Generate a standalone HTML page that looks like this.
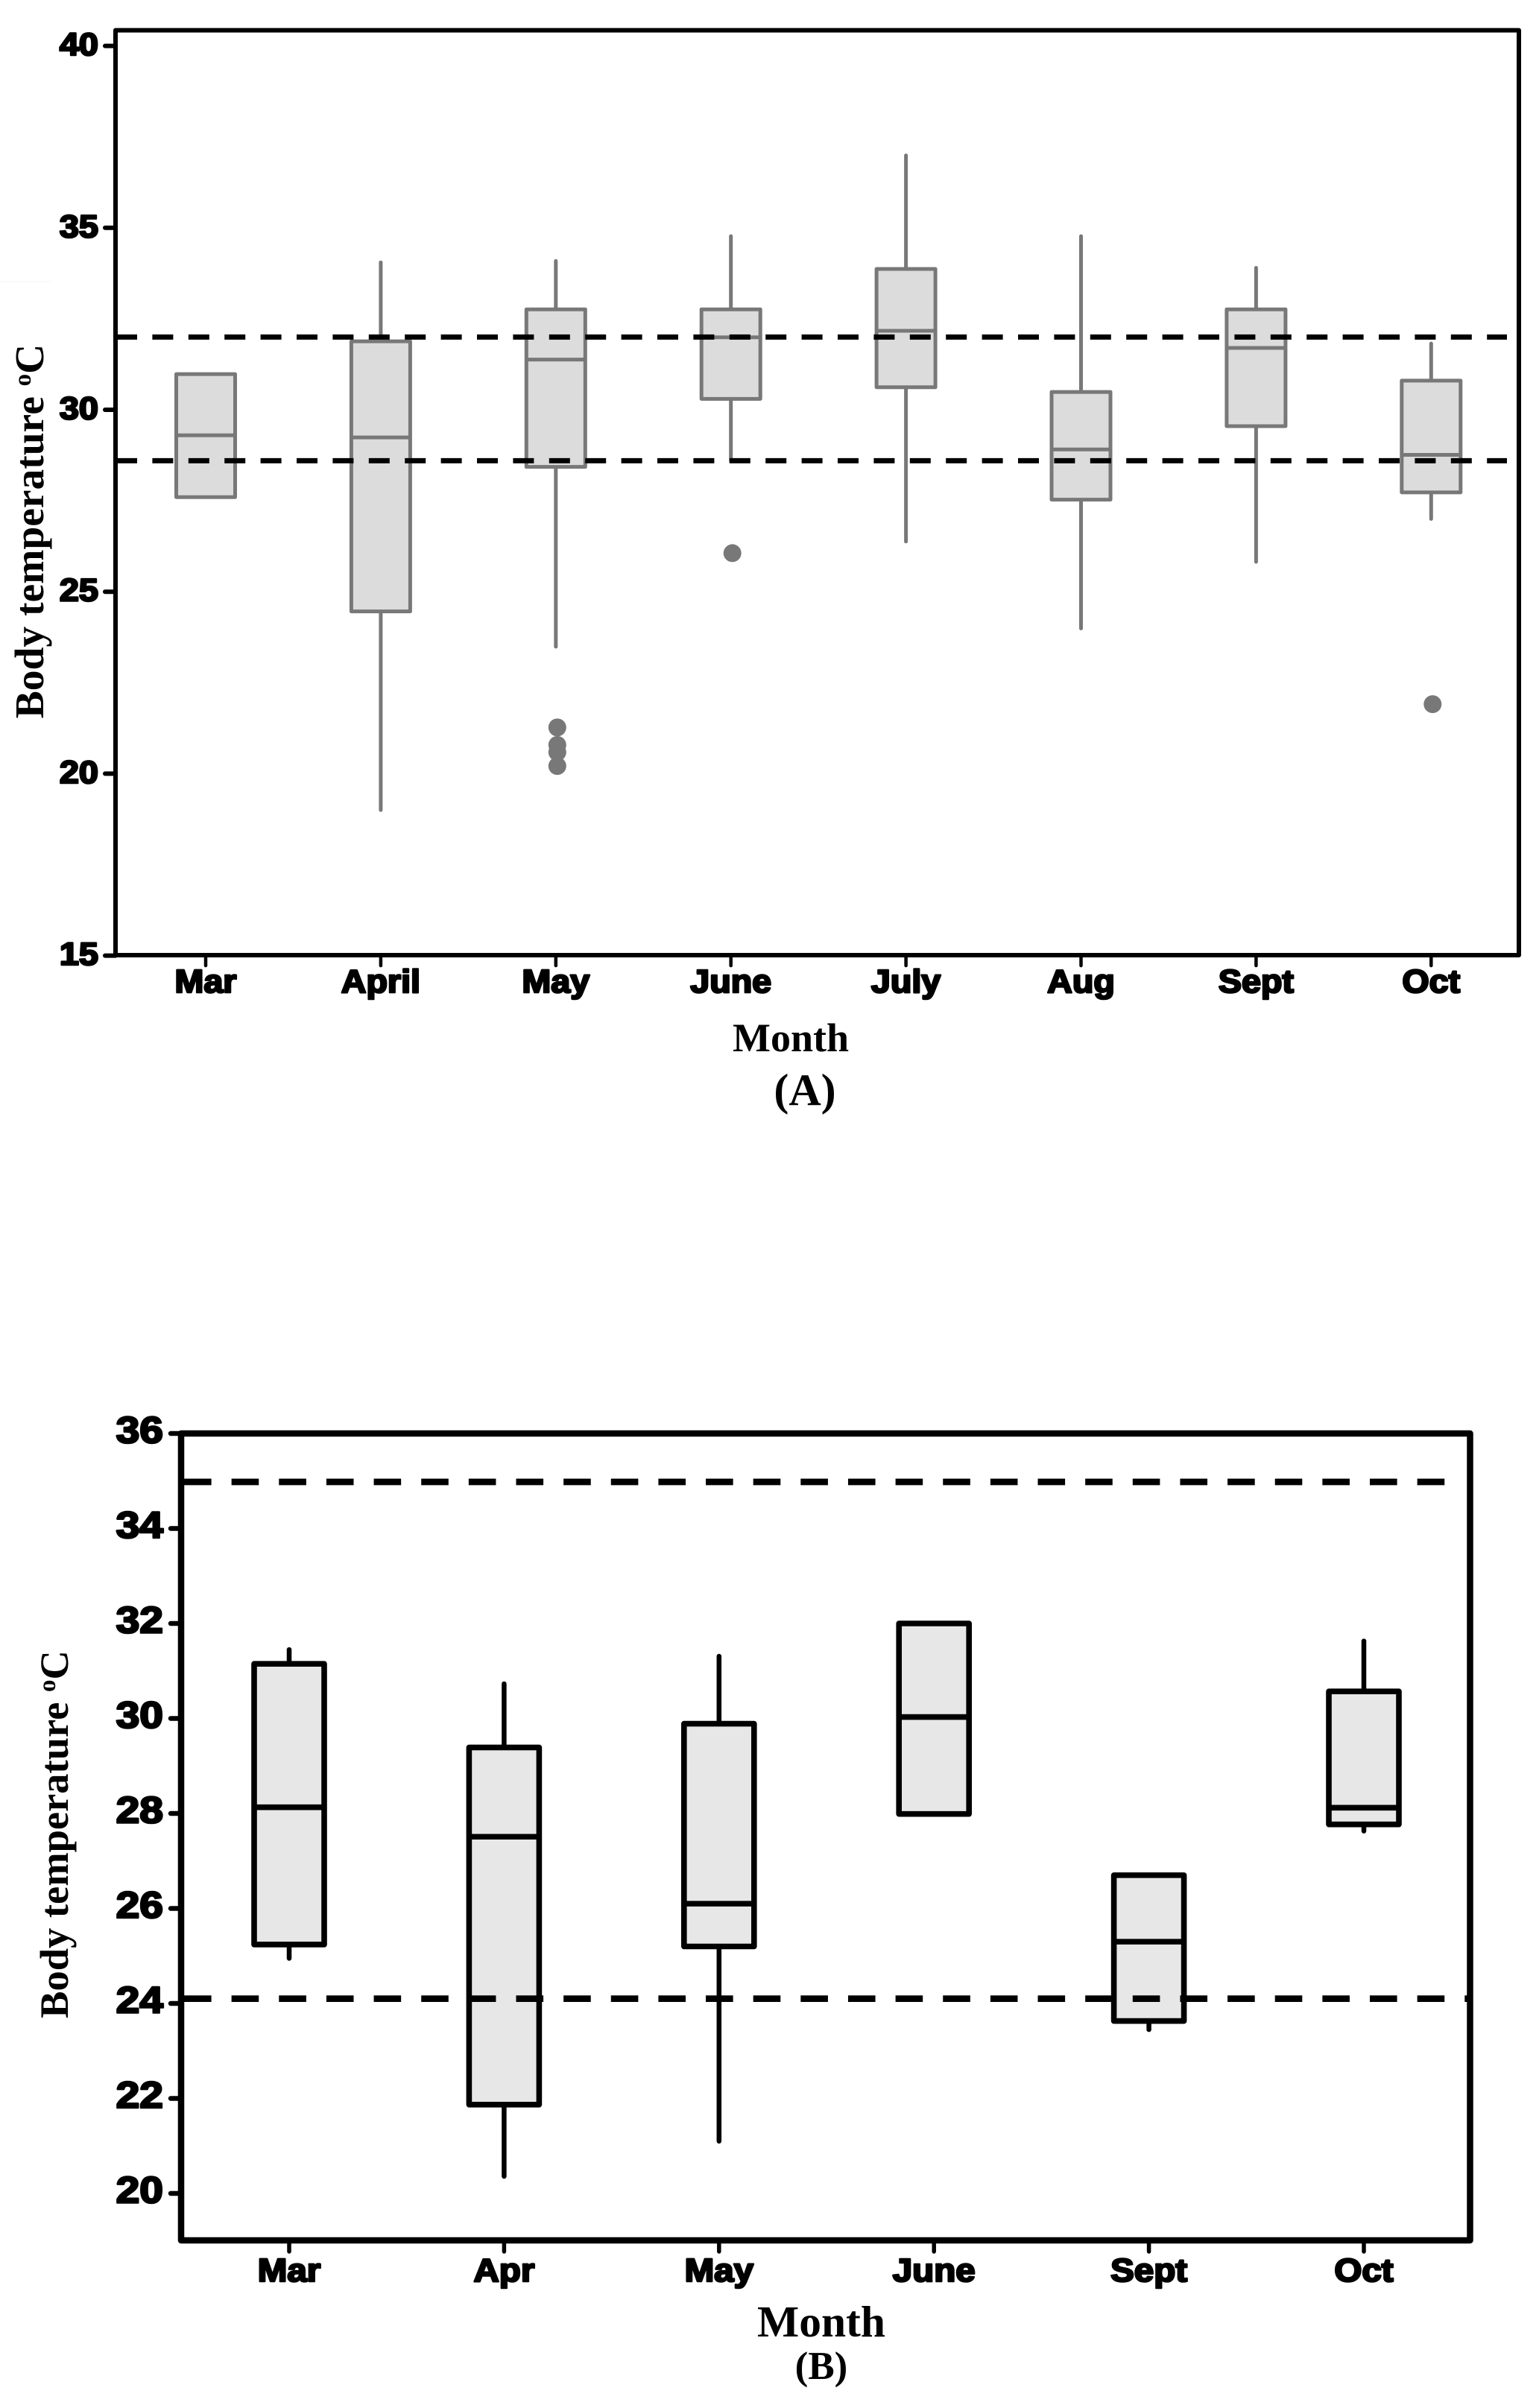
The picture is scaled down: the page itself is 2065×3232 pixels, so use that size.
<!DOCTYPE html>
<html lang="en">
<head>
<meta charset="utf-8">
<title>Body temperature by month</title>
<style>
  html, body { margin: 0; padding: 0; background: #fff; }
  svg { display: block; }
  .tick-label { font-family: "Liberation Sans", Arial, sans-serif; font-weight: 700; fill: #000; stroke: #000; stroke-linejoin: round; }
  .serif-label { font-family: "Liberation Serif", "Times New Roman", serif; font-weight: 700; fill: #000; }
</style>
</head>
<body>
<svg id="figure" xmlns="http://www.w3.org/2000/svg" width="2065" height="3232" viewBox="0 0 2065 3232">
  <rect x="0" y="0" width="2065" height="3232" fill="#ffffff"/>
  <line x1="0" y1="378" x2="68" y2="378" stroke="#f3f3f3" stroke-width="1"/>
  <g id="panel-a"></g>
  <text class="serif-label" x="1061" y="1411" font-size="54" text-anchor="middle">Month</text>
  <text class="serif-label" x="1080" y="1483" font-size="60" text-anchor="middle">(A)</text>
  <text class="serif-label" font-size="55.5" text-anchor="middle" transform="translate(58 713) rotate(-90)">Body temperature <tspan font-size="33" dy="-17">o</tspan><tspan dy="17">C</tspan></text>
  <g id="panel-b"></g>
  <text class="serif-label" x="1102" y="3136" font-size="59.5" text-anchor="middle">Month</text>
  <text class="serif-label" x="1102" y="3193" font-size="53" text-anchor="middle">(B)</text>
  <text class="serif-label" font-size="54.5" text-anchor="middle" transform="translate(91 2462) rotate(-90)">Body temperature <tspan font-size="33" dy="-17">o</tspan><tspan dy="17">C</tspan></text>
</svg>
<script>
// Panel A data
var categoriesA = ["Mar", "April", "May", "June", "July", "Aug", "Sept", "Oct"];
var whiskerHighA = [null, 34.05, 34.09, 34.77, 36.99, 34.77, 33.9, 31.82];
var q3A = [30.98, 31.88, 32.76, 32.76, 33.87, 30.49, 32.76, 30.8];
var medianA = [29.3, 29.24, 31.38, 31.99, 32.17, 28.91, 31.7, 28.76];
var q1A = [27.6, 24.46, 28.43, 30.3, 30.62, 27.53, 29.55, 27.73];
var whiskerLowA = [null, 19, 23.49, 28.59, 26.38, 23.99, 25.82, 27];
var outliersA = [[], [], [21.27, 20.79, 20.59, 20.21], [26.06], [], [], [], [21.91]];
var referenceA = [32, 28.6];
var yTicksA = [15, 20, 25, 30, 35, 40];

// Panel B data
var categoriesB = ["Mar", "Apr", "May", "June", "Sept", "Oct"];
var whiskerHighB = [31.45, 30.73, 31.31, null, null, 31.63];
var q3B = [31.15, 29.39, 29.89, 32, 26.7, 30.57];
var medianB = [28.13, 27.51, 26.1, 30.03, 25.3, 28.12];
var q1B = [25.24, 21.87, 25.2, 27.99, 23.63, 27.77];
var whiskerLowB = [24.95, 20.36, 21.1, null, 23.45, 27.63];
var outliersB = [[], [], [], [], [], []];
var referenceB = [34.98, 24.1];
var yTicksB = [20, 22, 24, 26, 28, 30, 32, 34, 36];

var SVG_NS = "http://www.w3.org/2000/svg";

function make(tag, attrs, parent) {
  var el = document.createElementNS(SVG_NS, tag);
  Object.keys(attrs).forEach(function (k) { el.setAttribute(k, attrs[k]); });
  parent.appendChild(el);
  return el;
}

function slug(s) { return String(s).toLowerCase(); }

function widen(el, factor) {
  var natural = el.getComputedTextLength();
  el.setAttribute("textLength", natural * factor);
  el.setAttribute("lengthAdjust", "spacingAndGlyphs");
}

function drawPanel(root, prefix, d, o) {
  var y = function (v) { return o.yBase + (o.yMax - v) * o.yUnit; };
  var x = function (i) { return o.xBase + i * o.xStep; };

  // boxes, whiskers, outliers
  d.categories.forEach(function (cat, i) {
    var cx = x(i);
    var key = prefix + "-" + slug(cat);

    if (d.high[i] !== null) {
      var wh = make("line", { x1: cx, x2: cx, y1: y(d.high[i]), y2: y(d.q3[i]), stroke: o.color, "stroke-width": o.whiskerW, "stroke-linecap": "round" }, root);
      
      
    }
    if (d.low[i] !== null) {
      var wl = make("line", { x1: cx, x2: cx, y1: y(d.q1[i]), y2: y(d.low[i]), stroke: o.color, "stroke-width": o.whiskerW, "stroke-linecap": "round" }, root);
      
      
    }

    var box = make("rect", { x: cx - o.boxHalf, y: y(d.q3[i]), width: o.boxHalf * 2, height: y(d.q1[i]) - y(d.q3[i]), fill: o.fill, stroke: o.color, "stroke-width": o.boxW, "stroke-linejoin": "round" }, root);
    
    

    var med = make("line", { x1: cx - o.boxHalf, x2: cx + o.boxHalf, y1: y(d.median[i]), y2: y(d.median[i]), stroke: o.color, "stroke-width": o.boxW }, root);
    
    

    d.outliers[i].forEach(function (v) {
      var pt = make("circle", { cx: cx + 2, cy: y(v), r: 12, fill: o.color }, root);
      
      
    });
  });

  // reference lines
  d.reference.forEach(function (v, i) {
    var ref = make("line", { x1: o.dashStart, x2: o.dashEnds[i], y1: y(v), y2: y(v), stroke: "#000", "stroke-width": o.dashW, "stroke-dasharray": o.dash }, root);
    
    
  });

  // frame
  var frame = make("rect", { x: o.left, y: o.top, width: o.right - o.left, height: o.bottom - o.top, fill: "none", stroke: "#000", "stroke-width": o.frameW, "stroke-linejoin": "round" }, root);
  
  

  // y ticks
  d.yTicks.forEach(function (v) {
    var t = make("line", { x1: o.left - o.yTickLen, x2: o.left, y1: y(v), y2: y(v), stroke: "#000", "stroke-width": o.tickW, "stroke-linecap": "round" }, root);
    
    

    var lab = make("text", { class: "tick-label", x: o.yLabelX, y: y(v) + o.yLabelDy, "font-size": o.yFont, "text-anchor": "end", "stroke-width": o.labelStroke }, root);
    
    
    lab.textContent = v;
    widen(lab, o.yWiden);
  });

  // x ticks
  d.categories.forEach(function (cat, i) {
    var t = make("line", { x1: x(i), x2: x(i), y1: o.bottom, y2: o.xTickEnd, stroke: "#000", "stroke-width": o.xTickW, "stroke-linecap": "round" }, root);
    
    

    var lab = make("text", { class: "tick-label", x: x(i), y: o.xLabelY, "font-size": o.xFont, "text-anchor": "middle", "stroke-width": o.labelStroke }, root);
    
    
    lab.textContent = cat;
    widen(lab, o.xWiden);
  });
}

drawPanel(document.getElementById("panel-a"), "panel-a", {
  categories: categoriesA, high: whiskerHighA, q3: q3A, median: medianA, q1: q1A, low: whiskerLowA,
  outliers: outliersA, reference: referenceA, yTicks: yTicksA
}, {
  yMax: 40, yBase: 61.6, yUnit: 48.84, xBase: 276, xStep: 234.9,
  left: 155, right: 2038, top: 40.6, bottom: 1282,
  color: "#787878", fill: "#dcdcdc", boxHalf: 39.5, boxW: 5, whiskerW: 5,
  dashStart: 156, dashEnds: [2022, 2022], dashW: 7, dash: "28 20.4",
  frameW: 6, tickW: 6, xTickW: 4.5, yTickLen: 14, yLabelX: 132, yLabelDy: 12.5, yFont: 43, yWiden: 1.09,
  xTickEnd: 1296, xLabelY: 1332, xFont: 44, xWiden: 1.06, labelStroke: 2.6
});

drawPanel(document.getElementById("panel-b"), "panel-b", {
  categories: categoriesB, high: whiskerHighB, q3: q3B, median: medianB, q1: q1B, low: whiskerLowB,
  outliers: outliersB, reference: referenceB, yTicks: yTicksB
}, {
  yMax: 36, yBase: 1924, yUnit: 63.75, xBase: 388, xStep: 288.4,
  left: 243, right: 1972.5, top: 1924, bottom: 3007,
  color: "#000000", fill: "#e7e7e7", boxHalf: 47, boxW: 7.6, whiskerW: 6.5,
  dashStart: 247, dashEnds: [1939, 1970], dashW: 8.8, dash: "36.6 27.04",
  frameW: 8.5, tickW: 6.5, xTickW: 5.5, yTickLen: 14, yLabelX: 219, yLabelDy: 12.5, yFont: 50, yWiden: 1.14,
  xTickEnd: 3022, xLabelY: 3062, xFont: 44, xWiden: 1.08, labelStroke: 2.6
});
</script>
</body>
</html>
